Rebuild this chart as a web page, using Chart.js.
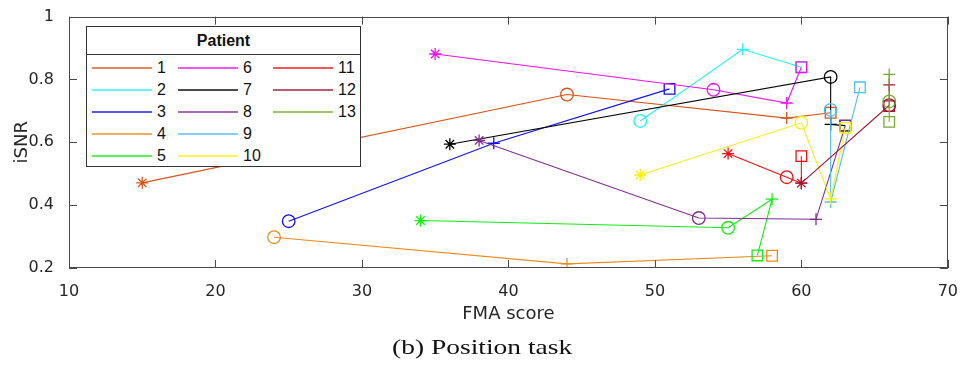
<!DOCTYPE html>
<html>
<head>
<meta charset="utf-8">
<script src="https://cdn.jsdelivr.net/npm/chart.js@4.4.1/dist/chart.umd.min.js"></script>
<style>
  html, body { margin: 0; padding: 0; background: #fff; }
  #wrap { position: relative; width: 964px; height: 372px; }
  #legend {
    position: absolute; left: 86px; top: 26px; width: 275px; height: 141px;
    border: 1px solid #333; background: #fff; box-sizing: border-box;
    font-family: "Liberation Sans", Arial, sans-serif; font-size: 16px; color: #111;
  }
  #legend .title {
    height: 27px; line-height: 27px; text-align: center; font-weight: bold;
    border-bottom: 1px solid #333;
  }
  #legend .item { position: absolute; height: 22px; line-height: 22px; }
  #legend .item span.ln { position: absolute; left: 0; top: 10px; width: 60px; height: 2px; }
  #legend .item span.tx { position: absolute; left: 65px; top: 0; white-space: nowrap; }
  #caption {
    position: absolute; left: 0; width: 964px; top: 334px; text-align: center;
    font-family: "Liberation Serif", "Times New Roman", serif; font-size: 22px; color: #111;
  }
  #caption span { display: inline-block; transform: scaleX(1.25); }
</style>
</head>
<body>
<div id="wrap">
  <canvas id="chart" width="964" height="372"></canvas>
  <div id="legend"><div class="title">Patient</div></div>
  <div id="caption"><span>(b) Position task</span></div>
</div>
<script>
// session markers: MATLAB * o + square
const sessionMarkers = ["star", "circle", "cross", "rect"];
const markerSizes = [6, 6.3, 6, 7.5];

const patients = ["1", "2", "3", "4", "5", "6", "7", "8", "9", "10", "11", "12", "13"];

const patientColors = [
  "#D95319", "#22F2F2", "#1010F5", "#EE8A1C", "#10EE10", "#F010F0", "#000000",
  "#7E2F8E", "#4DBEEE", "#F5F010", "#F01010", "#A2142F", "#77AC30"
];

// FMA score per session (null = no session)
const fmaScore = [
  [15, 44, 59, 62],
  [null, 49, 56, 60],
  [null, 25, 39, 51],
  [null, 24, 44, 58],
  [34, 55, 58, 57],
  [35, 54, 59, 60],
  [36, 62, 62, 63],
  [38, 53, 61, 63],
  [null, 62, 62, 64],
  [49, 60, 62, 63],
  [55, 59, 60, 60],
  [60, 66, 66, 66],
  [null, 66, 66, 66]
];

// iSNR per session
const isnr = [
  [0.471, 0.752, 0.677, 0.694],
  [null, 0.668, 0.896, 0.839],
  [null, 0.349, 0.597, 0.770],
  [null, 0.298, 0.213, 0.239],
  [0.351, 0.328, 0.419, 0.240],
  [0.881, 0.767, 0.725, 0.839],
  [0.594, 0.808, 0.657, 0.653],
  [0.606, 0.359, 0.355, 0.653],
  [null, 0.703, 0.410, 0.775],
  [0.496, 0.662, 0.420, 0.646],
  [0.564, 0.489, 0.470, 0.556],
  [0.470, 0.718, 0.783, 0.715],
  [null, 0.730, 0.816, 0.665]
];

const xTicks = [10, 20, 30, 40, 50, 60, 70];
const yTicks = [0.2, 0.4, 0.6, 0.8, 1];

const datasets = patients.map((name, i) => {
  const pts = [];
  const styles = [];
  const sizes = [];
  fmaScore[i].forEach((fx, j) => {
    if (fx === null) return;
    pts.push({ x: fx, y: isnr[i][j] });
    styles.push(sessionMarkers[j]);
    sizes.push(markerSizes[j]);
  });
  return {
    label: name,
    data: pts,
    showLine: true,
    order: patients.length - i, // later patients drawn on top, like MATLAB
    borderColor: patientColors[i],
    backgroundColor: "rgba(0,0,0,0)",
    borderWidth: 1.1,
    pointStyle: styles,
    pointRadius: sizes,
    pointBorderWidth: 1.3,
    pointBorderColor: patientColors[i],
    pointBackgroundColor: "rgba(0,0,0,0)",
  };
});

// MATLAB-like box with inward ticks
const boxTicks = {
  id: "boxTicks",
  afterDraw(chart) {
    const { ctx, chartArea: a, scales } = chart;
    ctx.save();
    ctx.strokeStyle = "#4a4a4a";
    ctx.lineWidth = 1;
    ctx.strokeRect(Math.round(a.left) + 0.5, Math.round(a.top) + 0.5,
      Math.round(a.width) - 1, Math.round(a.height) - 1);
    ctx.beginPath();
    xTicks.forEach((v) => {
      const px = Math.round(scales.x.getPixelForValue(v)) + 0.5;
      ctx.moveTo(px, a.bottom); ctx.lineTo(px, a.bottom - 8);
      ctx.moveTo(px, a.top); ctx.lineTo(px, a.top + 8);
    });
    yTicks.forEach((v) => {
      const py = Math.round(scales.y.getPixelForValue(v)) + 0.5;
      ctx.moveTo(a.left, py); ctx.lineTo(a.left + 8, py);
      ctx.moveTo(a.right, py); ctx.lineTo(a.right - 8, py);
    });
    ctx.stroke();
    ctx.restore();
  },
};

new Chart(document.getElementById("chart"), {
  type: "scatter",
  data: { datasets: datasets },
  plugins: [boxTicks],
  options: {
    responsive: false,
    animation: false,
    layout: { padding: { left: 0, top: 13, right: 15, bottom: 42 } },
    plugins: { legend: { display: false }, tooltip: { enabled: false } },
    scales: {
      x: {
        type: "linear",
        min: 10,
        max: 70,
        afterBuildTicks: (s) => { s.ticks = xTicks.map((v) => ({ value: v })); },
        afterFit: (s) => { s.height = 62; },
        grid: { display: false },
        border: { display: false },
        ticks: {
          padding: 6,
          color: "#262626",
          font: { family: "DejaVu Sans", size: 16 },
        },
        title: {
          display: true,
          text: "FMA score",
          color: "#262626",
          font: { family: "DejaVu Sans", size: 18 },
          padding: { top: 0, bottom: 5 },
        },
      },
      y: {
        type: "linear",
        min: 0.2,
        max: 1,
        afterBuildTicks: (s) => { s.ticks = yTicks.map((v) => ({ value: v })); },
        afterFit: (s) => { s.width = 69; },
        grid: { display: false },
        border: { display: false },
        ticks: {
          padding: 7,
          color: "#262626",
          font: { family: "DejaVu Sans", size: 16 },
          callback: (v) => String(v),
        },
        title: {
          display: true,
          text: "iSNR",
          color: "#262626",
          font: { family: "DejaVu Sans", size: 18 },
          padding: { top: 12, bottom: 0 },
        },
      },
    },
  },
});

// legend, filled column by column (5 rows)
const legendEl = document.getElementById("legend");
const colX = [5, 91, 186];
patients.forEach((name, i) => {
  const col = Math.floor(i / 5);
  const row = i % 5;
  const item = document.createElement("div");
  item.className = "item";
  item.style.left = colX[col] + "px";
  item.style.top = (30 + row * 22) + "px";
  item.innerHTML = '<span class="ln" style="background:' + patientColors[i] +
    ';opacity:0.7"></span><span class="tx">' + name + "</span>";
  legendEl.appendChild(item);
});
</script>
</body>
</html>
